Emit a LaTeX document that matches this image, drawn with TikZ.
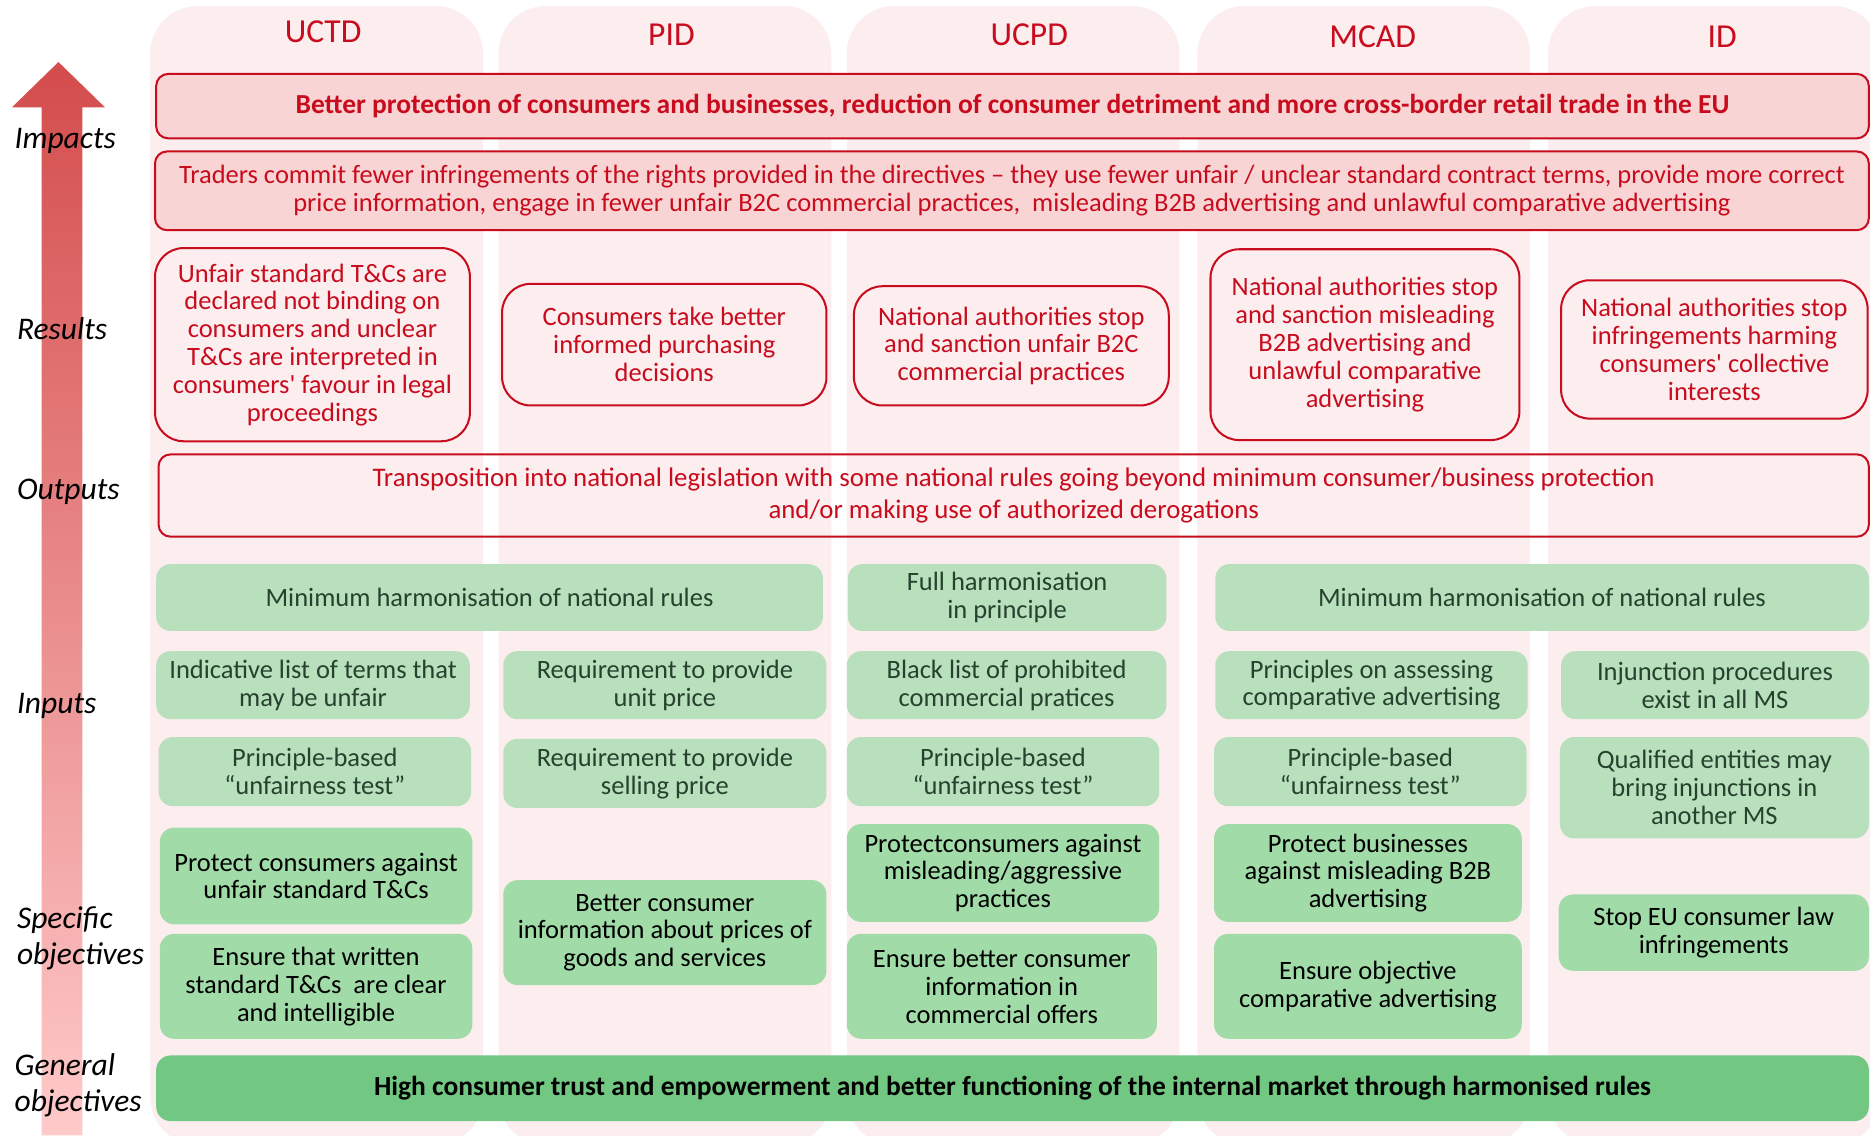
\documentclass[tikz,border=0pt]{standalone}
\usepackage{fontspec}
\setmainfont{Carlito}
\usepackage{tikz}
\definecolor{colbg}{RGB}{252,237,238}
\definecolor{impred}{RGB}{200,12,30}
\definecolor{impfill}{RGB}{249,212,212}
\definecolor{inputfill}{RGB}{185,224,189}
\definecolor{objfill}{RGB}{160,219,168}
\definecolor{genfill}{RGB}{114,199,130}
\definecolor{inputtext}{RGB}{38,66,46}
\definecolor{arrowtop}{RGB}{212,76,76}
\definecolor{arrowbottom}{RGB}{255,202,202}
\newcommand*{\boxfont}{\fontsize{15.8}{16.6}\selectfont}
\newcommand*{\boldfont}{\fontsize{16.4}{17}\selectfont\bfseries}
\newcommand*{\headfont}{\fontsize{20}{24}\selectfont}
\newcommand*{\levelfont}{\fontsize{18.8}{21.3}\selectfont\itshape}
\tikzstyle{block} = [rectangle, align=center, inner sep=1pt, font=\boxfont]
\tikzstyle{impact} = [block, draw=impred, line width=1.2pt, fill=impfill, rounded corners=2.5mm, text=impred]
\tikzstyle{result} = [block, draw=impred, line width=1.2pt, rounded corners=6mm, text=impred]
\tikzstyle{output} = [block, draw=impred, line width=1.2pt, rounded corners=2.5mm, text=impred]
\tikzstyle{input} = [block, fill=inputfill, rounded corners=3mm, text=inputtext]
\tikzstyle{objective} = [block, fill=objfill, rounded corners=3mm, text=black]
\tikzstyle{general} = [block, fill=genfill, rounded corners=3mm, font=\boldfont]
\tikzstyle{header} = [font=\headfont, text=impred]
\tikzstyle{level} = [anchor=west, align=left, font=\levelfont, inner sep=0pt]
\tikzstyle{column} = [fill=colbg, rounded corners=10mm]

\begin{document}
\begin{tikzpicture}[x=0.25mm, y=-0.25mm]
    \useasboundingbox (0,0) rectangle (1568,952);
    \fill [white] (0,0) rectangle (1568,952);

    % columns and their headers
    \foreach \x in {126, 418, 710, 1004, 1298} {
        \fill [column] (\x,5) rectangle ++(279,955);
    }
    \foreach \name/\x/\y in {UCTD/271/27, PID/563/29, UCPD/863/29, MCAD/1151/31, ID/1444/31} {
        \node (head \name) [header] at (\x,\y) {\name};
    }

    % arrow on the left
    \shade [top color=arrowtop, bottom color=arrowbottom] (35,952) -- (35,90) -- (10,90) -- (49,52) -- (88,90) -- (69,90) -- (69,952) -- cycle;

    \node (level impacts) [level] at (12,118) {Impacts};
    \node (level results) [level] at (14,276) {Results};
    \node (level outputs) [level] at (14,412) {Outputs};
    \node (level inputs) [level] at (14,592) {Inputs};
    \node (level specific) [level] at (14,787) {Specific\\objectives};
    \node (level general) [level] at (12,910) {General\\objectives};

    % impacts
    \node (impact 1) [impact, minimum width=359mm, minimum height=13.5mm, font=\boldfont] at (849,89) {Better protection of consumers and businesses, reduction of consumer detriment and more cross-border retail trade in the EU};
    \node (impact 2) [impact, minimum width=359.25mm, minimum height=16.5mm] at (848.5,160) {Traders commit fewer infringements of the rights provided in the directives -- they use fewer unfair / unclear standard contract terms, provide more correct\\price information, engage in fewer unfair B2C commercial practices,\ \ misleading B2B advertising and unlawful comparative advertising};

    % results
    \node (result uctd) [result, minimum width=66mm, minimum height=40.5mm] at (262,289) {Unfair standard T\&Cs are\\declared not binding on\\consumers and unclear\\T\&Cs are interpreted in\\consumers\textquotesingle\ favour in legal\\proceedings};
    \node (result pid) [result, minimum width=68mm, minimum height=25.5mm] at (557,289) {Consumers take better\\informed purchasing\\decisions};
    \node (result ucpd) [result, minimum width=66mm, minimum height=25mm] at (848,290) {National authorities stop\\and sanction unfair B2C\\commercial practices};
    \node (result mcad) [result, minimum width=64.75mm, minimum height=40mm] at (1144.5,289) {National authorities stop\\and sanction misleading\\B2B advertising and\\unlawful comparative\\advertising};
    \node (result id) [result, minimum width=64.25mm, minimum height=29mm] at (1437.5,293) {National authorities stop\\infringements harming\\consumers\textquotesingle\ collective\\interests};

    % outputs
    \node (output) [output, minimum width=358.5mm, minimum height=17.25mm, font=\fontsize{16}{19}\selectfont] at (850,415.5) {Transposition into national legislation with some national rules going beyond minimum consumer/business protection\\and/or making use of authorized derogations};

    % inputs
    \node (harm min 1) [input, minimum width=139.75mm, minimum height=14mm] at (410.5,501) {Minimum harmonisation of national rules};
    \node (harm full) [input, minimum width=66.75mm, minimum height=14mm] at (844.5,501) {Full harmonisation\\in principle};
    \node (harm min 2) [input, minimum width=137mm, minimum height=14mm] at (1293,501) {Minimum harmonisation of national rules};

    \node (input uctd 1) [input, minimum width=65.75mm, minimum height=14.25mm] at (262.5,574.5) {Indicative list of terms that\\may be unfair};
    \node (input pid 1) [input, minimum width=67.75mm, minimum height=14.25mm] at (557.5,574.5) {Requirement to provide\\unit price};
    \node (input ucpd 1) [input, minimum width=67mm, minimum height=14.25mm] at (844,574.5) {Black list of prohibited\\commercial pratices};
    \node (input mcad 1) [input, minimum width=65.5mm, minimum height=14.25mm] at (1150,574.5) {Principles on assessing\\comparative advertising};
    \node (input id 1) [input, minimum width=64.5mm, minimum height=14.25mm] at (1438,574.5) {Injunction procedures\\exist in all MS};

    \node (input uctd 2) [input, minimum width=65.5mm, minimum height=14.5mm] at (264,647) {Principle-based\\“unfairness test”};
    \node (input pid 2) [input, minimum width=67.75mm, minimum height=14.5mm] at (557.5,648.5) {Requirement to provide\\selling price};
    \node (input ucpd 2) [input, minimum width=65.5mm, minimum height=14.5mm] at (841,647) {Principle-based\\“unfairness test”};
    \node (input mcad 2) [input, minimum width=65.5mm, minimum height=14.5mm] at (1149,647) {Principle-based\\“unfairness test”};
    \node (input id 2) [input, minimum width=64.75mm, minimum height=21.25mm] at (1437.5,660.5) {Qualified entities may\\bring injunctions in\\another MS};

    % specific objectives
    \node (spec uctd 1) [objective, minimum width=65.5mm, minimum height=20.25mm] at (265,734.5) {Protect consumers against\\unfair standard T\&Cs};
    \node (spec uctd 2) [objective, minimum width=65.5mm, minimum height=22mm] at (265,827) {Ensure that written\\standard T\&Cs\ \ are clear\\and intelligible};
    \node (spec pid) [objective, minimum width=67.75mm, minimum height=22mm] at (557.5,782) {Better consumer\\information about prices of\\goods and services};
    \node (spec ucpd 1) [objective, minimum width=65.5mm, minimum height=20.5mm] at (841,732) {Protectconsumers against\\misleading/aggressive\\practices};
    \node (spec ucpd 2) [objective, minimum width=65mm, minimum height=22mm] at (840,827) {Ensure better consumer\\information in\\commercial offers};
    \node (spec mcad 1) [objective, minimum width=64.5mm, minimum height=20.5mm] at (1147,732) {Protect businesses\\against misleading B2B\\advertising};
    \node (spec mcad 2) [objective, minimum width=64.5mm, minimum height=22mm] at (1147,827) {Ensure objective\\comparative advertising};
    \node (spec id) [objective, minimum width=65mm, minimum height=16mm] at (1437,782) {Stop EU consumer law\\infringements};

    % general objective
    \node (general) [general, minimum width=359mm, minimum height=13.75mm] at (849,912.5) {High consumer trust and empowerment and better functioning of the internal market through harmonised rules};
\end{tikzpicture}
\end{document}
